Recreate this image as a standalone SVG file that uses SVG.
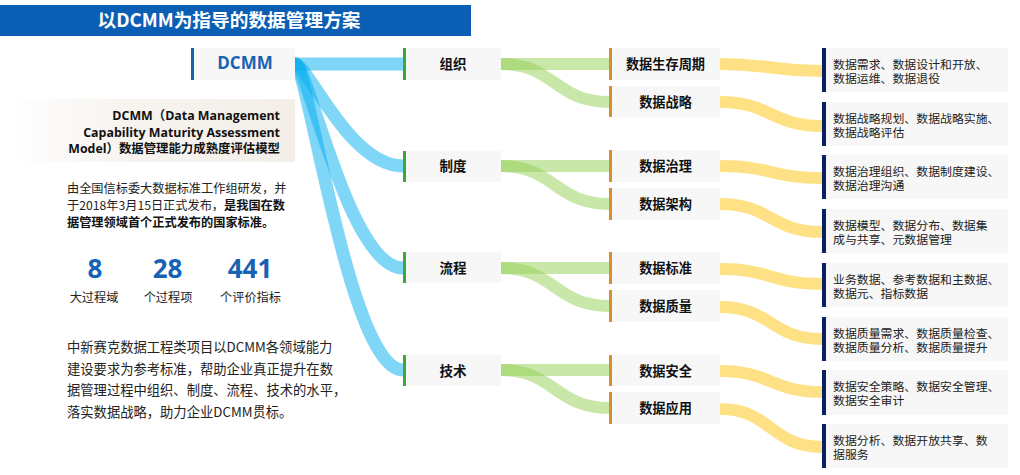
<svg xmlns="http://www.w3.org/2000/svg" width="1020" height="475" viewBox="0 0 1020 475">
<defs>
<linearGradient id="descbg" x1="0" y1="0" x2="1" y2="0">
<stop offset="0" stop-color="#F3EEE8" stop-opacity="0"/>
<stop offset="0.35" stop-color="#F3EEE8" stop-opacity="0.6"/>
<stop offset="1" stop-color="#F3EEE8"/>
</linearGradient>
</defs>
<style>
text{font-family:"Open Sans","Noto Sans CJK SC",sans-serif;fill:#1a1a1a}
.cn{font-family:"Noto Sans CJK SC","Open Sans",sans-serif}
.box{fill:#F7F7F7}
.b1{fill:#3BA936}
.b2{fill:#D68F2A}
.b3{fill:#0B1F63}
.l1{font-family:"Noto Sans CJK SC",sans-serif;font-size:13.5px;font-weight:bold;text-anchor:middle;fill:#111}
.l2{font-family:"Noto Sans CJK SC",sans-serif;font-size:13.2px;font-weight:bold;text-anchor:middle;fill:#111}
.l3{font-family:"Liberation Sans","Noto Sans CJK SC",sans-serif;font-size:11.9px;fill:#222}
.p{font-family:"Noto Sans CJK SC",sans-serif;font-size:12.2px;fill:#222}
.p2{font-family:"Noto Sans CJK SC",sans-serif;font-size:13.3px;fill:#222}
.num{font-family:"Open Sans","Liberation Sans",sans-serif;font-size:26px;font-weight:bold;fill:#1862B4;text-anchor:middle}
.lab{font-family:"Noto Sans CJK SC",sans-serif;font-size:12.2px;fill:#222;text-anchor:middle}
.blue{fill:none;stroke:#00AEEF;stroke-opacity:0.5;stroke-width:13}
.green{fill:none;stroke:#93CF53;stroke-opacity:0.5;stroke-width:12}
.yellow{fill:none;stroke:#FFD966;stroke-opacity:0.8;stroke-width:12}
</style>

<g id="title">
<rect x="0" y="5" width="471" height="31" fill="#0A5FB4"/>
<text x="229" y="27" class="cn" font-size="18.7" font-weight="bold" text-anchor="middle" style="fill:#fff">以DCMM为指导的数据管理方案</text>
</g>

<g id="description">
<rect x="10" y="99" width="285" height="63" fill="url(#descbg)"/>
<text font-size="12.4" font-weight="bold" text-anchor="end" style="fill:#111"><tspan x="280" y="120">DCMM（Data Management</tspan><tspan x="280" y="136.5">Capability Maturity Assessment</tspan><tspan x="280" y="153">Model）数据管理能力成熟度评估模型</tspan></text>
<text x="67" y="193" class="p">由全国信标委大数据标准工作组研发，并</text>
<text x="67" y="210" class="p">于2018年3月15日正式发布，<tspan font-weight="bold" style="fill:#111">是我国在数</tspan></text>
<text x="67" y="227" class="p" font-weight="bold" style="fill:#111">据管理领域首个正式发布的国家标准。</text>
<text x="95" y="278" class="num">8</text>
<text x="167.5" y="278" class="num">28</text>
<text x="250" y="278" class="num">441</text>
<text x="94" y="302" class="lab">大过程域</text>
<text x="168" y="302" class="lab">个过程项</text>
<text x="250.5" y="302" class="lab">个评价指标</text>
<text x="67" y="352" class="p2">中新赛克数据工程类项目以DCMM各领域能力</text>
<text x="67" y="373.5" class="p2">建设要求为参考标准，帮助企业真正提升在数</text>
<text x="67" y="395" class="p2">据管理过程中组织、制度、流程、技术的水平，</text>
<text x="67" y="416.5" class="p2">落实数据战略，助力企业DCMM贯标。</text>
</g>

<g id="connectors">
<path class="blue" d="M295 64 C349 64 349 64 403 64"/>
<path class="blue" d="M295 64 C308 64 349 166 403 166"/>
<path class="blue" d="M295 64 C308 64 349 268 403 268"/>
<path class="blue" d="M295 64 C308 64 349 370 403 370"/>
<path class="green" d="M501 64 C555 64 555 64 609 64"/>
<path class="green" d="M501 64 C555 64 555 102 609 102"/>
<path class="green" d="M501 166 C555 166 555 166 609 166"/>
<path class="green" d="M501 166 C555 166 555 204 609 204"/>
<path class="green" d="M501 268 C555 268 555 268 609 268"/>
<path class="green" d="M501 268 C555 268 555 306 609 306"/>
<path class="green" d="M501 370 C555 370 555 370 609 370"/>
<path class="green" d="M501 370 C555 370 555 408 609 408"/>
<path class="yellow" d="M720 64 C771 64 771 71 822 71"/>
<path class="yellow" d="M720 102 C771 102 771 126 822 126"/>
<path class="yellow" d="M720 166 C771 166 771 178 822 178"/>
<path class="yellow" d="M720 204 C771 204 771 232 822 232"/>
<path class="yellow" d="M720 269 C771 269 771 284 822 284"/>
<path class="yellow" d="M720 307 C771 307 771 339 822 339"/>
<path class="yellow" d="M720 371 C771 371 771 392 822 392"/>
<path class="yellow" d="M720 409 C771 409 771 447 822 447"/>
</g>

<g id="dcmm">
<rect class="box" x="191" y="48" width="104" height="32"/>
<rect x="191" y="48" width="3" height="32" fill="#1462B5"/>
<text x="245" y="69" font-size="17" font-weight="bold" text-anchor="middle" style="fill:#1862B4">DCMM</text>
</g>

<g id="n-zuzhi"><rect class="box" x="403" y="48" width="98" height="32"/><rect class="b1" x="403" y="48" width="3" height="32"/><text class="l1" x="453" y="69">组织</text></g>
<g id="n-zhidu"><rect class="box" x="403" y="151" width="98" height="31"/><rect class="b1" x="403" y="151" width="3" height="31"/><text class="l1" x="453" y="171">制度</text></g>
<g id="n-liucheng"><rect class="box" x="403" y="252" width="98" height="31"/><rect class="b1" x="403" y="252" width="3" height="31"/><text class="l1" x="453" y="272.5">流程</text></g>
<g id="n-jishu"><rect class="box" x="403" y="355" width="98" height="31"/><rect class="b1" x="403" y="355" width="3" height="31"/><text class="l1" x="453" y="375.5">技术</text></g>

<g id="n-smzq"><rect class="box" x="609" y="48" width="111" height="32"/><rect class="b2" x="609" y="48" width="3" height="32"/><text class="l2" x="665.5" y="69">数据生存周期</text></g>
<g id="n-zl"><rect class="box" x="609" y="86" width="111" height="31"/><rect class="b2" x="609" y="86" width="3" height="31"/><text class="l2" x="665.5" y="106.5">数据战略</text></g>
<g id="n-zhili"><rect class="box" x="609" y="150" width="111" height="32"/><rect class="b2" x="609" y="150" width="3" height="32"/><text class="l2" x="665.5" y="171">数据治理</text></g>
<g id="n-jg"><rect class="box" x="609" y="188" width="111" height="32"/><rect class="b2" x="609" y="188" width="3" height="32"/><text class="l2" x="665.5" y="209">数据架构</text></g>
<g id="n-bz"><rect class="box" x="609" y="252" width="111" height="32"/><rect class="b2" x="609" y="252" width="3" height="32"/><text class="l2" x="665.5" y="273">数据标准</text></g>
<g id="n-zlg"><rect class="box" x="609" y="290" width="111" height="32"/><rect class="b2" x="609" y="290" width="3" height="32"/><text class="l2" x="665.5" y="311">数据质量</text></g>
<g id="n-aq"><rect class="box" x="609" y="355" width="111" height="31"/><rect class="b2" x="609" y="355" width="3" height="31"/><text class="l2" x="665.5" y="375.5">数据安全</text></g>
<g id="n-yy"><rect class="box" x="609" y="392" width="111" height="32"/><rect class="b2" x="609" y="392" width="3" height="32"/><text class="l2" x="665.5" y="413">数据应用</text></g>

<g id="d1"><rect class="box" x="822" y="48" width="186" height="44"/><rect class="b3" x="822" y="48" width="4" height="44"/><text class="l3"><tspan x="833" y="68.5">数据需求、数据设计和开放、</tspan><tspan x="833" y="82.5">数据运维、数据退役</tspan></text></g>
<g id="d2"><rect class="box" x="822" y="102" width="186" height="44"/><rect class="b3" x="822" y="102" width="4" height="44"/><text class="l3"><tspan x="833" y="122.5">数据战略规划、数据战略实施、</tspan><tspan x="833" y="136.5">数据战略评估</tspan></text></g>
<g id="d3"><rect class="box" x="822" y="155" width="186" height="44"/><rect class="b3" x="822" y="155" width="4" height="44"/><text class="l3"><tspan x="833" y="175.5">数据治理组织、数据制度建设、</tspan><tspan x="833" y="189.5">数据治理沟通</tspan></text></g>
<g id="d4"><rect class="box" x="822" y="209" width="186" height="44"/><rect class="b3" x="822" y="209" width="4" height="44"/><text class="l3"><tspan x="833" y="229.5">数据模型、数据分布、数据集</tspan><tspan x="833" y="243.5">成与共享、元数据管理</tspan></text></g>
<g id="d5"><rect class="box" x="822" y="263" width="186" height="44"/><rect class="b3" x="822" y="263" width="4" height="44"/><text class="l3"><tspan x="833" y="283.5">业务数据、参考数据和主数据、</tspan><tspan x="833" y="297.5">数据元、指标数据</tspan></text></g>
<g id="d6"><rect class="box" x="822" y="317" width="186" height="44"/><rect class="b3" x="822" y="317" width="4" height="44"/><text class="l3"><tspan x="833" y="337.5">数据质量需求、数据质量检查、</tspan><tspan x="833" y="351.5">数据质量分析、数据质量提升</tspan></text></g>
<g id="d7"><rect class="box" x="822" y="370" width="186" height="45"/><rect class="b3" x="822" y="370" width="4" height="45"/><text class="l3"><tspan x="833" y="390.5">数据安全策略、数据安全管理、</tspan><tspan x="833" y="404.5">数据安全审计</tspan></text></g>
<g id="d8"><rect class="box" x="822" y="424" width="186" height="44"/><rect class="b3" x="822" y="424" width="4" height="44"/><text class="l3"><tspan x="833" y="444.5">数据分析、数据开放共享、数</tspan><tspan x="833" y="458.5">据服务</tspan></text></g>
</svg>
